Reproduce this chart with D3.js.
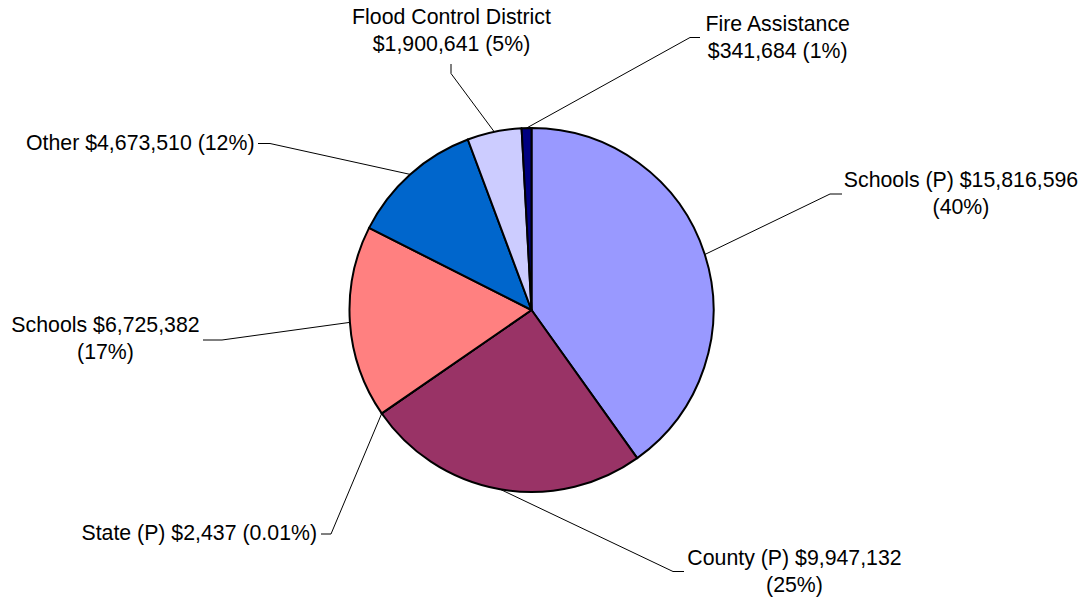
<!DOCTYPE html>
<html>
<head>
<meta charset="utf-8">
<script src="https://cdn.jsdelivr.net/npm/d3@7/dist/d3.min.js"></script>
<style>
  html, body { margin: 0; padding: 0; background: #ffffff; }
  svg { display: block; }
  text { font-family: "Liberation Sans", Arial, sans-serif; fill: #000; }
</style>
</head>
<body>
<svg id="chart" width="1085" height="599"></svg>
<script>
// ---- data ----
const categories = ["Schools (P)", "County (P)", "State (P)", "Schools", "Other", "Flood Control District", "Fire Assistance"];
const values = [15816596, 9947132, 2437, 6725382, 4673510, 1900641, 341684];
const pctLabels = ["40%", "25%", "0.01%", "17%", "12%", "5%", "1%"];
const colors = ["#9999FF", "#993366", "#FFFFCC", "#FF8080", "#0066CC", "#CCCCFF", "#000080"];

// ---- layout (label placement) ----
// wrap: "pct" = break before percentage, "value" = break before value, "none" = single line
const labelLayout = [
  { wrap: "pct",   x: 961,   y: 187, anchor: "middle", elbow: [830, 194],  end: [842, 194] },
  { wrap: "pct",   x: 794.5, y: 565, anchor: "middle", elbow: [673, 571.5], end: [684, 571.5] },
  { wrap: "none",  x: 317,   y: 540, anchor: "end",    elbow: [331, 534],  end: [321, 534] },
  { wrap: "pct",   x: 105.5, y: 332, anchor: "middle", elbow: [222, 340],  end: [203, 340] },
  { wrap: "none",  x: 254.5, y: 150, anchor: "end",    elbow: [270, 143.5], end: [258, 143.5] },
  { wrap: "value", x: 451.5, y: 23.5, anchor: "middle", elbow: [451, 73.5], end: [451, 64] },
  { wrap: "value", x: 777.7, y: 30.5, anchor: "middle", elbow: [690, 37.5], end: [700, 37.5] }
];

const cx = 531.5, cy = 310, R = 182;
const fontSize = 21.3, lineGap = 27;

const svg = d3.select("#chart");
const g = svg.append("g").attr("transform", `translate(${cx},${cy})`);

const pie = d3.pie().sort(null).value(d => d).startAngle(0).endAngle(2 * Math.PI);
const arcs = pie(values);
const arc = d3.arc().innerRadius(0).outerRadius(R);
const edgeArc = d3.arc().innerRadius(R).outerRadius(R);

g.selectAll("path.slice")
  .data(arcs)
  .enter().append("path")
  .attr("class", "slice")
  .attr("d", arc)
  .attr("fill", (d, i) => colors[i])
  .attr("stroke", "#000")
  .attr("stroke-width", 2)
  .attr("stroke-linejoin", "round");

const fmt = d3.format(",");

// leader lines
arcs.forEach((d, i) => {
  const L = labelLayout[i];
  const c = edgeArc.centroid(d);
  const p0 = [cx + c[0], cy + c[1]];
  svg.append("polyline")
    .attr("points", [p0, L.elbow, L.end].map(p => p.join(",")).join(" "))
    .attr("fill", "none")
    .attr("stroke", "#000")
    .attr("stroke-width", 1);
});

// labels
arcs.forEach((d, i) => {
  const L = labelLayout[i];
  const valStr = "$" + fmt(values[i]);
  const pctStr = "(" + pctLabels[i] + ")";
  let lines;
  if (L.wrap === "pct") lines = [categories[i] + " " + valStr, pctStr];
  else if (L.wrap === "value") lines = [categories[i], valStr + " " + pctStr];
  else lines = [categories[i] + " " + valStr + " " + pctStr];
  const t = svg.append("text")
    .attr("text-anchor", L.anchor)
    .attr("font-size", fontSize);
  lines.forEach((ln, k) => {
    t.append("tspan").attr("x", L.x).attr("y", L.y + k * lineGap).text(ln);
  });
});
</script>
</body>
</html>
